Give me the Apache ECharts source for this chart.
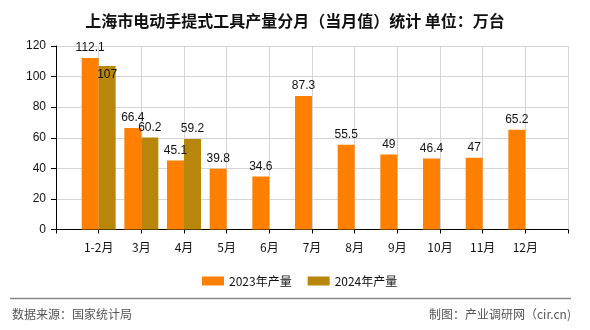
<!DOCTYPE html>
<html>
<head>
<meta charset="utf-8">
<script src="https://cdn.jsdelivr.net/npm/echarts@6/dist/echarts.min.js"></script>
<style>html,body{margin:0;padding:0;background:#fff}#c{width:590px;height:330px}</style>
</head>
<body>
<div id="c"></div>
<script>
const months = ['1-2月','3月','4月','5月','6月','7月','8月','9月','10月','11月','12月'];
const prod2023 = [112.1, 66.4, 45.1, 39.8, 34.6, 87.3, 55.5, 49, 46.4, 47, 65.2];
const prod2024 = [107, 60.2, 59.2, null, null, null, null, null, null, null, null];
const yTicks = [0, 20, 40, 60, 80, 100, 120];

const axisCats = [''].concat(months, ['']);
const pad = arr => [null].concat(arr, [null]);
const font = '"Noto Sans CJK SC", "Liberation Sans", sans-serif';

const s2024 = pad(prod2024).map((v, i) => {
  if (i === 1) return { value: v, label: { position: 'insideTop', distance: 3 } };
  return v;
});

const chart = echarts.init(document.getElementById('c'), null, { renderer: 'canvas' });
chart.setOption({
  animation: false,
  backgroundColor: '#fff',
  title: {
    text: '上海市电动手提式工具产量分月（当月值）统计 单位：万台',
    left: 'center', top: 8,
    textStyle: { fontFamily: font, fontSize: 16, fontWeight: 'bold', color: '#111' }
  },
  legend: {
    left: 197, top: 270,
    itemWidth: 22, itemHeight: 9, itemGap: 16,
    icon: 'rect',
    textStyle: { fontFamily: font, fontSize: 12, color: '#111' },
    data: ['2023年产量', '2024年产量']
  },
  grid: { left: 56, right: 22, top: 46, bottom: 100.5, containLabel: false },
  xAxis: {
    type: 'category',
    data: axisCats,
    boundaryGap: false,
    axisLine: { lineStyle: { color: '#000', width: 1 } },
    axisTick: { show: true, length: 4, lineStyle: { color: '#000' } },
    axisLabel: { interval: 0, margin: 12, fontFamily: font, fontSize: 12, color: '#111' },
    splitLine: { show: true, lineStyle: { color: '#d4d4d4', width: 1 } }
  },
  yAxis: {
    type: 'value',
    min: yTicks[0], max: yTicks[yTicks.length - 1], interval: 20,
    axisLine: { show: true, lineStyle: { color: '#000', width: 1 } },
    axisTick: { show: true, length: 5, lineStyle: { color: '#000' } },
    axisLabel: { margin: 10, fontFamily: '"Liberation Sans", sans-serif', fontSize: 12, color: '#111' },
    splitLine: { show: true, lineStyle: { color: '#d4d4d4', width: 1 } }
  },
  series: [
    {
      name: '2023年产量', type: 'bar', data: pad(prod2023),
      barWidth: 17, barGap: '0%',
      itemStyle: { color: '#ff8000' },
      label: { show: true, position: 'top', distance: 4, fontFamily: '"Liberation Sans", sans-serif', fontSize: 12, color: '#111' }
    },
    {
      name: '2024年产量', type: 'bar', data: s2024,
      barWidth: 17, barGap: '0%',
      itemStyle: { color: '#b8860b' },
      label: { show: true, position: 'top', distance: 4, fontFamily: '"Liberation Sans", sans-serif', fontSize: 12, color: '#111' }
    }
  ],
  graphic: [
    { type: 'line', shape: { x1: 10, y1: 298.5, x2: 571, y2: 298.5 }, style: { stroke: '#888', lineWidth: 1.5 } },
    { type: 'text', left: 12, top: 308, style: { text: '数据来源：国家统计局', font: '12px "Noto Sans CJK SC", sans-serif', fill: '#555' } },
    { type: 'text', right: 19, top: 308, style: { text: '制图：产业调研网（cir.cn)', font: '12px "Noto Sans CJK SC", sans-serif', fill: '#555' } }
  ]
});
</script>
</body>
</html>
